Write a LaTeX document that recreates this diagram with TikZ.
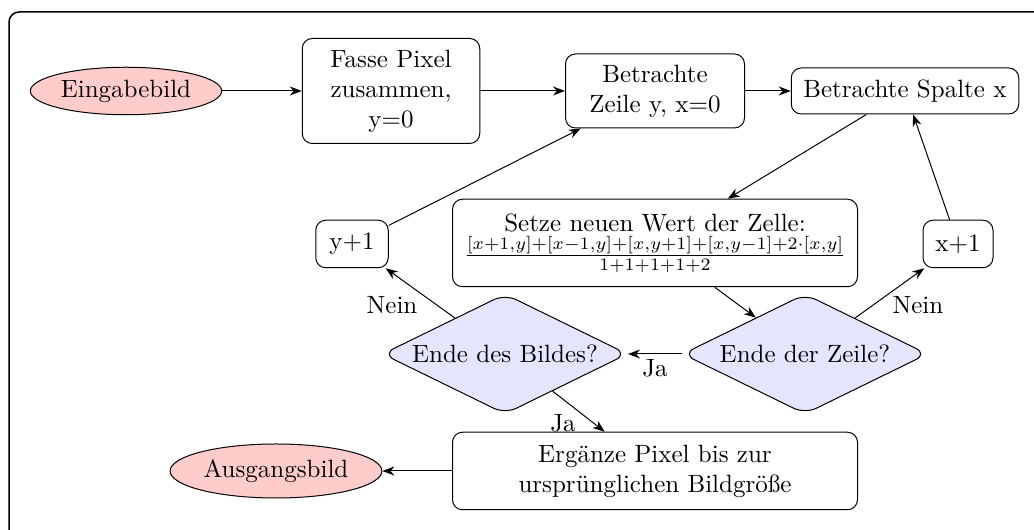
\documentclass[tikz,border=0pt]{standalone}
\usepackage{fontspec}
\usepackage{amsmath,amssymb}
\usetikzlibrary{shapes.geometric,arrows.meta,positioning}

\begin{document}
\begin{tikzpicture}[
  x=0.4pt, y=-0.4pt,
  box/.style={draw, rounded corners, align=center, fill=white, inner sep=2pt},
  io/.style={draw, ellipse, fill=red!20, inner sep=1pt},
  check/.style={draw, diamond, aspect=2, rounded corners=5pt, fill=blue!10, inner sep=1pt, minimum width=98pt, minimum height=48pt},
  arr/.style={-{Stealth}}
]
  \useasboundingbox (0,0) rectangle (1034,530);
  \draw[line width=0.6pt, rounded corners=4pt] (9,540) -- (9,12) -- (1040,12);

  \node[io, minimum width=72pt, minimum height=19pt] (input) at (126,91) {Eingabebild};
  \node[box, minimum width=71pt, minimum height=42pt] (merge) at (391,91) {Fasse Pixel\\zusammen,\\y=0};
  \node[box, minimum width=71.6pt, minimum height=29.6pt] (row) at (655,91) {Betrachte\\Zeile y, x=0};
  \node[box, minimum width=91pt, minimum height=18.4pt] (col) at (905,91) {Betrachte Spalte x};
  \node[box, minimum width=162pt, minimum height=35pt] (cell) at (655,243)
    {Setze neuen Wert der Zelle:\\
     $\frac{[x+1,y]+[x-1,y]+[x,y+1]+[x,y-1]+2\cdot[x,y]}{1+1+1+1+2}$};
  \node[box, minimum width=29pt, minimum height=19pt] (ynext) at (352,244) {y+1};
  \node[box, minimum width=28pt, minimum height=19pt] (xnext) at (958,244) {x+1};
  \node[check] (imgend) at (505,354) {Ende des Bildes?};
  \node[check] (rowend) at (805,354) {Ende der Zeile?};
  \node[box, minimum width=162pt, minimum height=31pt] (pad) at (655,471) {Ergänze Pixel bis zur\\ursprünglichen Bildgröße};
  \node[io, minimum width=83pt, minimum height=21.6pt] (output) at (276,471) {Ausgangsbild};

  \draw[arr] (input) -- (merge);
  \draw[arr] (merge) -- (row);
  \draw[arr] (row) -- (col);
  \draw[arr] (col) -- (cell);
  \draw[arr] (cell) -- (rowend);
  \draw[arr] (rowend) -- node[midway, below, inner sep=2pt] {Ja} (imgend);
  \draw[arr] (rowend) -- node[midway, below right, inner sep=1pt] {Nein} (xnext);
  \draw[arr] (xnext) -- (col);
  \draw[arr] (imgend) -- node[midway, below left, inner sep=1pt] {Nein} (ynext);
  \draw[arr] (ynext) -- (row);
  \draw[arr] (imgend) -- node[midway, below left, inner sep=1pt] {Ja} (pad);
  \draw[arr] (pad) -- (output);
\end{tikzpicture}
\end{document}
